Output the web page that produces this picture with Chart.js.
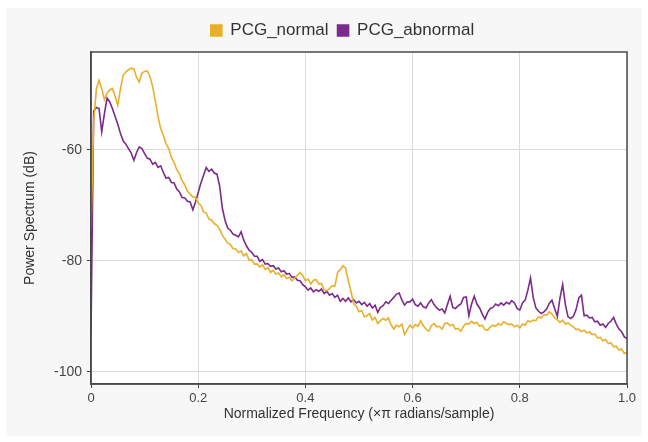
<!DOCTYPE html>
<html>
<head>
<meta charset="utf-8">
<script src="https://cdn.jsdelivr.net/npm/chart.js@4/dist/chart.umd.min.js"></script>
<style>
html,body{margin:0;padding:0;background:#ffffff;}
#wrap{position:absolute;left:6px;top:8px;width:636px;height:428px;background:#f7f7f7;}
#c{position:absolute;left:0;top:0;}
</style>
</head>
<body>
<div id="wrap"></div>
<canvas id="c" width="648" height="442"></canvas>
<script>
const seriesNames = ["PCG_normal", "PCG_abnormal"];
const xTickValues = [0, 0.2, 0.4, 0.6, 0.8, 1.0];
const yTickValues = [-100, -80, -60];
const freqStep = 0.005;
const freq = Array.from({length: 201}, (_, i) => +(i * freqStep).toFixed(3));

const pcgNormal = [
-74,-55,-49,-47.5,-49,-51,-49.8,-49.2,-49,-50.4,
-52,-49,-46.6,-46,-45.6,-45.3,-45.4,-47,-47.8,-46.2,
-45.9,-45.8,-46.8,-48.6,-51.2,-54,-56.2,-57.4,-58.9,-59.8,
-61.4,-62.3,-63.6,-64.3,-65.6,-66.3,-67.5,-68.0,-68.5,-68.6,
-69.6,-70.0,-71.2,-71.4,-72.5,-72.7,-73.3,-73.6,-74.3,-75.4,
-76.1,-76.8,-77.1,-77.8,-77.9,-78.5,-78.2,-79.1,-78.7,-79.9,
-79.8,-80.6,-80.6,-81.1,-80.7,-81.6,-81.2,-82.1,-81.7,-82.4,
-82.2,-82.9,-82.5,-83.2,-83.0,-83.6,-83.1,-82.6,-82.1,-82.7,
-83.6,-83.3,-84.2,-83.5,-83.4,-84.2,-84.1,-85.2,-85.4,-85.0,
-84.5,-84.6,-82.1,-81.6,-80.9,-81.3,-83.6,-85.5,-87.7,-88.2,
-89.2,-89.0,-90.1,-89.9,-89.5,-90.7,-90.2,-91.3,-90.8,-90.4,
-90.7,-90.3,-91.6,-92.3,-91.6,-91.9,-91.4,-93.3,-92.4,-91.6,
-92.1,-91.5,-91.8,-90.8,-91.7,-92.3,-92.7,-91.7,-91.3,-91.9,
-91.8,-92.3,-91.3,-91.2,-91.7,-91.5,-92.3,-92.2,-92.7,-91.8,
-91.3,-91.4,-90.9,-91.3,-91.1,-91.8,-91.6,-92.4,-92.5,-91.9,
-91.6,-91.8,-91.3,-91.6,-91.0,-91.3,-91.5,-91.4,-91.9,-91.6,
-92.1,-91.4,-91.6,-90.8,-91.0,-90.7,-90.8,-90.1,-90.3,-89.7,
-89.8,-89.2,-89.6,-90.3,-90.6,-91.1,-90.7,-91.4,-91.2,-91.6,
-91.9,-92.4,-92.3,-92.8,-92.5,-93.0,-92.8,-93.3,-93.2,-93.9,
-93.8,-94.4,-94.2,-94.9,-94.8,-95.5,-95.4,-96.1,-95.9,-96.7,
-96.5,-97.4,-97.1,-98.3,-99
];

const pcgAbnormal = [
-93,-53,-52.4,-52.6,-56.8,-53.5,-50.7,-51.4,-52.6,-54,
-55.4,-57.1,-58.4,-59,-59.8,-60.6,-61.9,-60.5,-59.5,-59.8,
-60.7,-61.5,-61.7,-62.6,-62.3,-63.2,-62.9,-64.1,-65.1,-65.0,
-65.9,-66.0,-67.1,-67.6,-68.6,-68.7,-69.3,-69.4,-70.8,-69.4,
-67.7,-66.0,-64.6,-63.2,-63.9,-63.5,-64.2,-64.4,-66.5,-70.5,
-72.7,-74.1,-74.5,-75.2,-75.4,-75.7,-74.8,-76.3,-77.3,-78.1,
-78.5,-79.2,-79.2,-80.1,-79.8,-80.6,-80.5,-81.0,-80.9,-81.5,
-81.3,-82.0,-81.8,-82.4,-82.3,-83.0,-82.9,-83.5,-83.6,-84.3,
-84.7,-85.3,-84.9,-85.6,-85.2,-85.5,-85.1,-85.9,-85.5,-86.2,
-85.9,-86.6,-86.2,-87.3,-86.8,-87.3,-86.7,-87.4,-87.0,-87.6,
-87.3,-87.9,-87.5,-88.2,-87.7,-88.5,-88.0,-89.3,-88.4,-88.1,
-87.4,-87.7,-87.1,-86.6,-86.0,-85.8,-87.1,-88.0,-87.4,-87.4,
-86.9,-87.9,-88.2,-87.6,-88.3,-88.5,-87.6,-87.0,-87.9,-88.5,
-88.9,-88.7,-89.4,-87.9,-86.4,-88.4,-88.6,-88.1,-87.8,-86.6,
-86.5,-89.9,-87.8,-86.4,-87.8,-88.5,-89.6,-90.5,-89.3,-88.6,
-88.4,-87.8,-88.1,-87.6,-88.0,-87.5,-87.8,-87.2,-87.6,-88.6,
-88.9,-87.6,-87.1,-85.3,-83.1,-86.6,-88.5,-89.1,-89.5,-89.2,
-88.7,-87.7,-87.1,-88.6,-90.0,-86.7,-84.3,-87.9,-90.1,-90.4,
-90.0,-88.8,-86.7,-86.2,-89.9,-89.8,-90.3,-90.2,-91.0,-90.9,
-91.6,-91.4,-92.0,-91.3,-90.9,-90.2,-91.4,-92.3,-92.8,-93.7,
-94
];

const colors = ["#e8b02a", "#7b2b8a"];
const seriesValues = [pcgNormal, pcgAbnormal];
const FONT = 'Liberation Sans, Arial, sans-serif';

const fmtX = v => v === 0 ? "0" : (v === 1 ? "1.0" : v.toFixed(1));

const frameBorder = {
  id: 'frameBorder',
  afterDatasetsDraw(chart) {
    const a = chart.chartArea, ctx = chart.ctx;
    ctx.save();
    ctx.strokeStyle = '#4a4a4a';
    ctx.lineWidth = 1.5;
    ctx.strokeRect(a.left, a.top, a.right - a.left, a.bottom - a.top);
    ctx.restore();
  }
};
const plotBg = {
  id: 'plotBg',
  beforeDraw(chart) {
    const a = chart.chartArea, ctx = chart.ctx;
    ctx.save();
    ctx.fillStyle = '#ffffff';
    ctx.fillRect(a.left, a.top, a.right - a.left, a.bottom - a.top);
    ctx.restore();
  }
};
const legendShift = {
  id: 'legendShift',
  afterLayout(chart) {
    const lg = chart.legend;
    if (!lg) return;
    lg.left += 18; lg.right += 18;
    lg.top -= 3; lg.bottom -= 3;
  }
};

new Chart(document.getElementById('c'), {
  type: 'line',
  data: {
    datasets: seriesNames.map((name, k) => ({
      label: name,
      data: freq.map((f, i) => ({x: f, y: seriesValues[k][i]})),
      borderColor: colors[k],
      backgroundColor: colors[k],
      borderWidth: 1.6,
      pointRadius: 0,
      tension: 0
    }))
  },
  options: {
    responsive: false,
    animation: false,
    layout: {padding: {left: 22, right: 21, top: 16, bottom: 19}},
    plugins: {
      legend: {
        position: 'top',
        labels: {
          boxWidth: 11, boxHeight: 11, padding: 9,
          color: '#333', font: {family: FONT, size: 17}
        }
      },
      tooltip: {enabled: false}
    },
    scales: {
      x: {
        type: 'linear', min: 0, max: 1,
        afterBuildTicks: s => { s.ticks = xTickValues.map(v => ({value: v})); },
        afterFit: s => { s.height = 442 - 19 - 384; },
        ticks: {callback: v => fmtX(v), color: '#444', maxRotation: 0,
                font: {family: FONT, size: 13}, padding: 3},
        grid: {color: '#dcdcdc', tickColor: '#444', tickLength: 4, lineWidth: 1},
        border: {display: true, color: '#4a4a4a', width: 1.5},
        title: {display: true, text: 'Normalized Frequency (\u00d7\u03c0 radians/sample)', color: '#333',
                font: {family: FONT, size: 14}, padding: {top: 0, bottom: 0}}
      },
      y: {
        type: 'linear', min: -102.2, max: -42.4,
        afterBuildTicks: s => { s.ticks = yTickValues.map(v => ({value: v})); },
        afterFit: s => { s.width = 91 - 22; },
        ticks: {color: '#444', font: {family: FONT, size: 14}, padding: 5},
        grid: {color: '#dcdcdc', tickColor: '#444', tickLength: 4, lineWidth: 1},
        border: {display: true, color: '#4a4a4a', width: 1.5},
        title: {display: true, text: 'Power Spectrum (dB)', color: '#333',
                font: {family: FONT, size: 14}, padding: {top: 0, bottom: 0}}
      }
    }
  },
  plugins: [plotBg, frameBorder, legendShift]
});
</script>
</body>
</html>
